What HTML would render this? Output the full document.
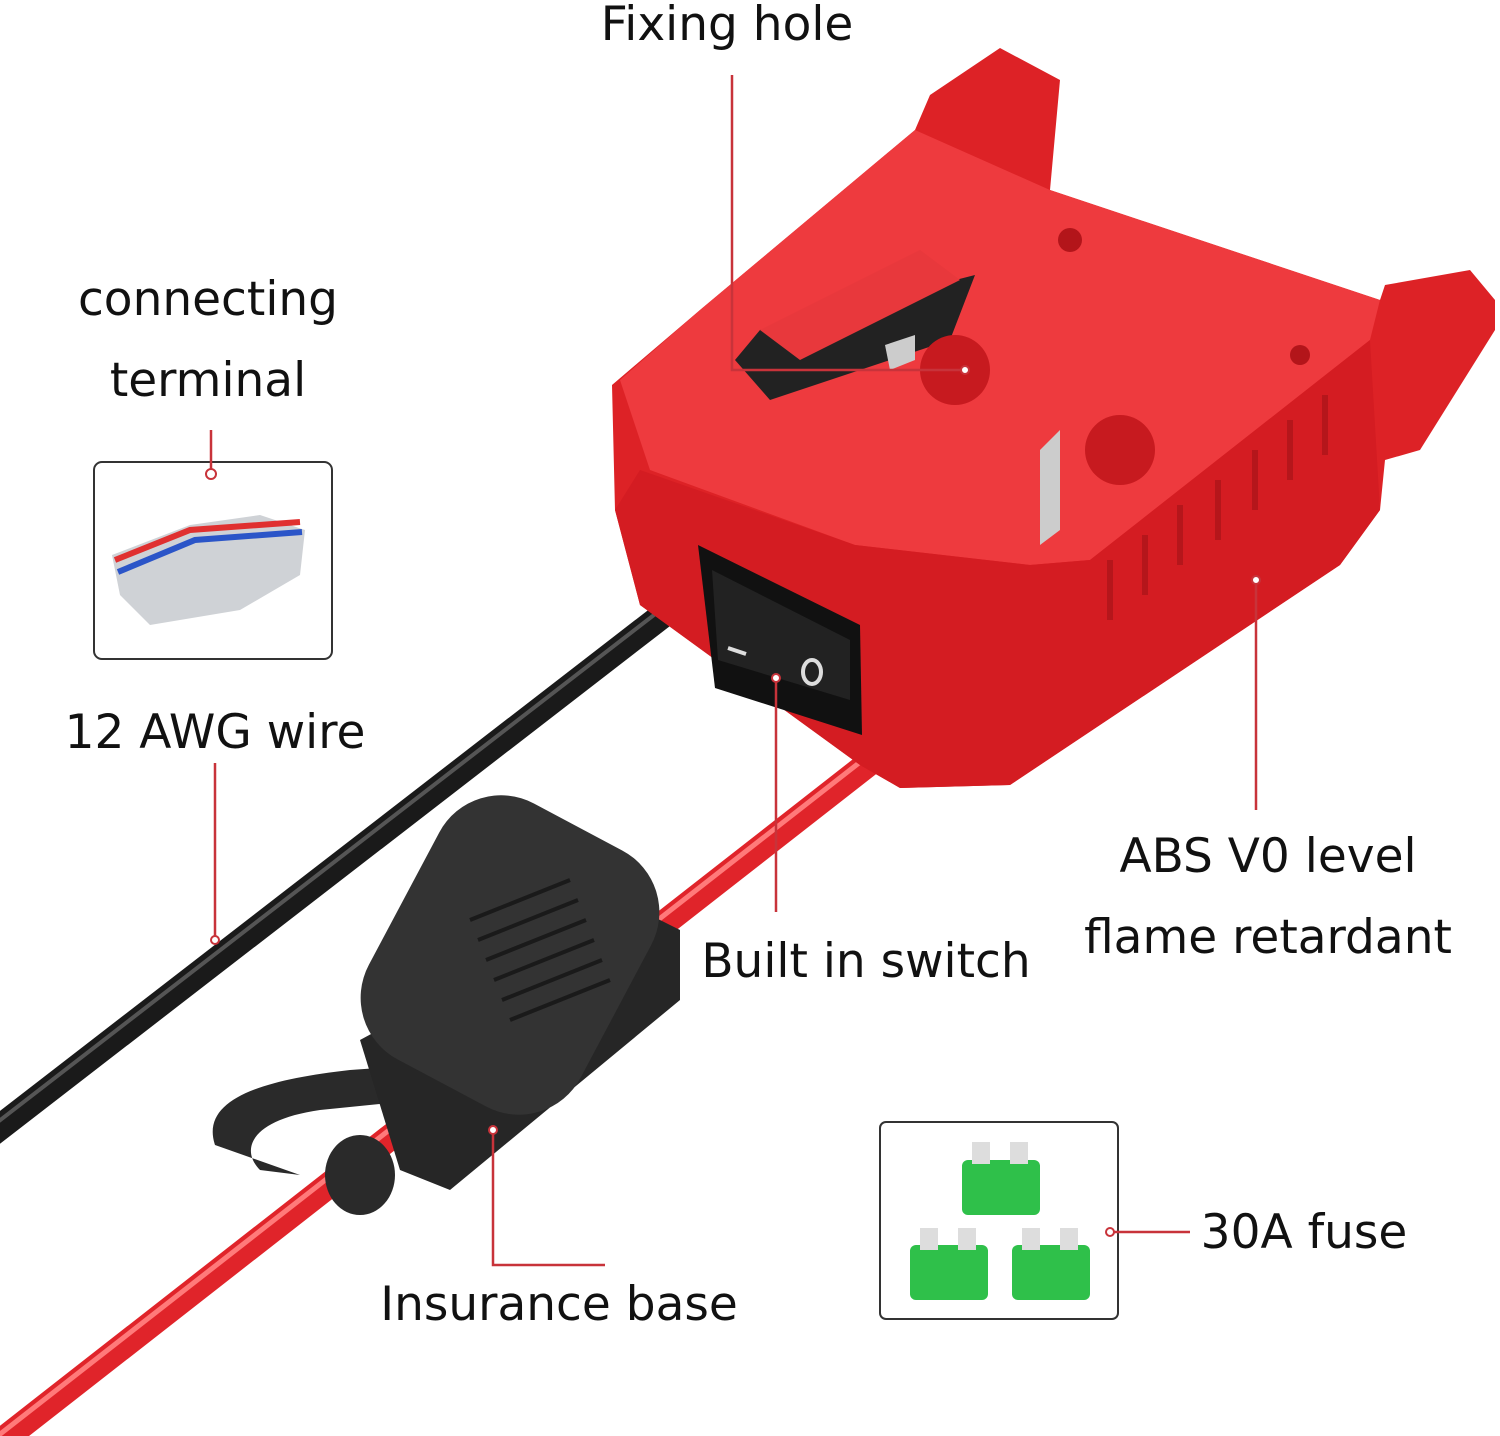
<!DOCTYPE html>
<html><head><meta charset="utf-8"><style>
html,body{margin:0;padding:0;background:#fff;}
svg{display:block}
text{font-family:"DejaVu Sans","Liberation Sans",sans-serif;fill:#111;font-size:47px}
</style></head><body>
<svg width="1500" height="1436" viewBox="0 0 1500 1436" xmlns="http://www.w3.org/2000/svg">
<line x1="685" y1="598" x2="-10" y2="1135" stroke="#1a1a1a" stroke-width="26" stroke-linecap="round"/>
<line x1="685" y1="598" x2="-10" y2="1135" stroke="#555" stroke-width="4" transform="translate(0,-7)"/>
<line x1="905" y1="735" x2="-10" y2="1450" stroke="#e0242a" stroke-width="26" stroke-linecap="round"/>
<line x1="905" y1="735" x2="-10" y2="1450" stroke="#ff7a7a" stroke-width="5" transform="translate(0,-8)"/>
<polygon points="612,385 700,310 915,130 930,95 1000,48 1060,80 1050,190 1380,300 1385,285 1470,270 1495,300 1495,330 1420,450 1385,460 1380,510 1340,565 1010,785 900,788 860,765 640,605 615,510" fill="#dd2226"/>
<polygon points="620,380 700,310 915,130 1050,190 1380,300 1370,340 1090,560 1030,565 855,545 650,470" fill="#ee3a3e"/>
<polygon points="640,470 855,545 1030,565 1090,560 1370,340 1380,510 1340,565 1010,785 900,788 860,765 640,605 615,510" fill="#d41c22"/>
<polygon points="735,360 760,330 975,275 950,340 770,400" fill="#222"/>
<polygon points="760,330 920,250 960,280 800,360" fill="#e8383c"/>
<circle cx="955" cy="370" r="35" fill="#c71a1f"/>
<circle cx="1120" cy="450" r="35" fill="#c71a1f"/>
<circle cx="1070" cy="240" r="12" fill="#b3151a"/>
<circle cx="1300" cy="355" r="10" fill="#b3151a"/>
<polygon points="1040,450 1060,430 1060,530 1040,545" fill="#ccc"/>
<polygon points="885,345 915,335 915,360 890,370" fill="#ccc"/>
<g stroke="#b5161b" stroke-width="6">
<line x1="1110" y1="560" x2="1110" y2="620"/><line x1="1145" y1="535" x2="1145" y2="595"/><line x1="1180" y1="505" x2="1180" y2="565"/><line x1="1218" y1="480" x2="1218" y2="540"/><line x1="1255" y1="450" x2="1255" y2="510"/><line x1="1290" y1="420" x2="1290" y2="480"/><line x1="1325" y1="395" x2="1325" y2="455"/>
</g>
<polygon points="698,545 860,625 862,735 715,688" fill="#111"/>
<polygon points="712,570 850,640 850,700 718,660" fill="#222"/>
<line x1="728" y1="648" x2="746" y2="654" stroke="#ddd" stroke-width="4"/>
<ellipse cx="812" cy="672" rx="9" ry="12" fill="none" stroke="#ddd" stroke-width="4"/>
<path d="M215,1145 C200,1100 260,1080 350,1070 L420,1065 L420,1100 L320,1110 C250,1120 240,1150 260,1170 L300,1175 Z" fill="#2a2a2a"/>
<polygon points="360,1040 620,900 680,930 680,1000 450,1190 400,1170" fill="#262626"/>
<rect x="390" y="810" width="240" height="290" rx="70" fill="#333" transform="rotate(28 510 955)"/>
<g stroke="#1a1a1a" stroke-width="4">
<line x1="470" y1="920" x2="570" y2="880"/><line x1="478" y1="940" x2="578" y2="900"/><line x1="486" y1="960" x2="586" y2="920"/><line x1="494" y1="980" x2="594" y2="940"/><line x1="502" y1="1000" x2="602" y2="960"/><line x1="510" y1="1020" x2="610" y2="980"/>
</g>
<ellipse cx="360" cy="1175" rx="35" ry="40" fill="#2a2a2a"/>
<rect x="94" y="462" width="238" height="197" rx="8" fill="#fff" stroke="#333" stroke-width="2"/>
<polygon points="112,555 190,525 260,515 305,530 300,575 240,610 150,625 120,595" fill="#cfd2d6"/>
<path d="M115,560 L190,530 L300,522" stroke="#e03030" stroke-width="6" fill="none"/>
<path d="M118,572 L195,540 L302,532" stroke="#2b55c8" stroke-width="6" fill="none"/>
<rect x="880" y="1122" width="238" height="197" rx="6" fill="#fff" stroke="#333" stroke-width="2"/>
<g fill="#2fc04a">
<rect x="962" y="1160" width="78" height="55" rx="6"/>
<rect x="910" y="1245" width="78" height="55" rx="6"/>
<rect x="1012" y="1245" width="78" height="55" rx="6"/>
</g>
<g fill="#ddd"><rect x="972" y="1142" width="18" height="22"/><rect x="1010" y="1142" width="18" height="22"/><rect x="920" y="1228" width="18" height="22"/><rect x="958" y="1228" width="18" height="22"/><rect x="1022" y="1228" width="18" height="22"/><rect x="1060" y="1228" width="18" height="22"/></g>
<g stroke="#c8333a" stroke-width="2.5" fill="none">
<polyline points="732,75 732,370 965,370"/>
<line x1="211" y1="430" x2="211" y2="470"/>
<line x1="215" y1="763" x2="215" y2="940"/>
<line x1="776" y1="678" x2="776" y2="912"/>
<line x1="1256" y1="580" x2="1256" y2="810"/>
<polyline points="493,1130 493,1265 605,1265"/>
<line x1="1112" y1="1232" x2="1190" y2="1232"/>
</g>
<g fill="#fff" stroke="#c8333a" stroke-width="2">
<circle cx="965" cy="370" r="4"/><circle cx="211" cy="474" r="5"/><circle cx="215" cy="940" r="4"/><circle cx="776" cy="678" r="4"/><circle cx="1256" cy="580" r="4"/><circle cx="493" cy="1130" r="4"/><circle cx="1110" cy="1232" r="4"/>
</g>
<text x="727" y="40" text-anchor="middle">Fixing hole</text>
<text x="208" y="315" text-anchor="middle">connecting</text>
<text x="208" y="396" text-anchor="middle">terminal</text>
<text x="215" y="748" text-anchor="middle">12 AWG wire</text>
<text x="866" y="977" text-anchor="middle">Built in switch</text>
<text x="1268" y="872" text-anchor="middle">ABS V0 level</text>
<text x="1268" y="953" text-anchor="middle">flame retardant</text>
<text x="559" y="1320" text-anchor="middle">Insurance base</text>
<text x="1304" y="1248" text-anchor="middle">30A fuse</text>
</svg>
</body></html>
